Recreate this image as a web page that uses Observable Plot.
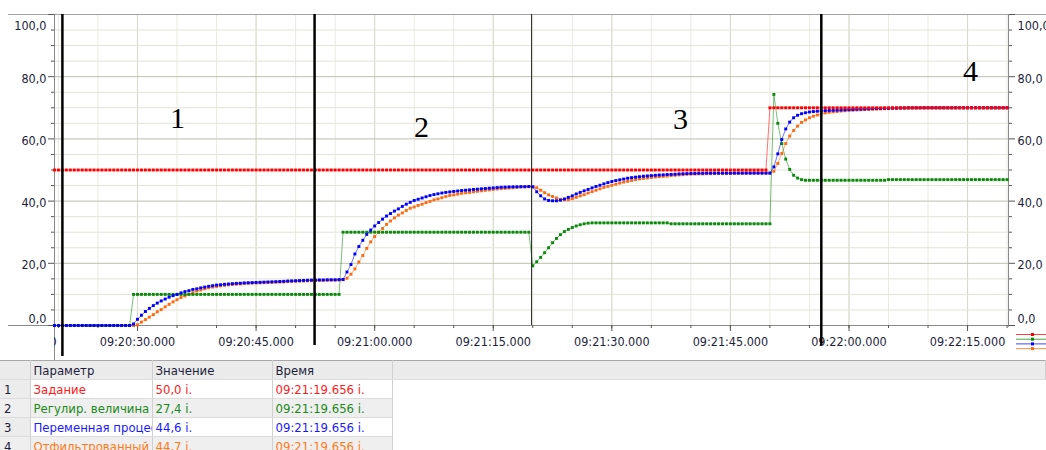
<!DOCTYPE html>
<html>
<head>
<meta charset="utf-8">
<script src="https://cdn.jsdelivr.net/npm/d3@7"></script>
<script src="https://cdn.jsdelivr.net/npm/@observablehq/plot@0.6"></script>
<style>
  body { margin: 0; background: #fff; }
  #chart svg { display: block; }
  #readout {
    border-collapse: collapse; table-layout: fixed; width: 1046px;
    font: 13px "DejaVu Sans Condensed", "DejaVu Sans", sans-serif;
    border-top: 1px solid #a8a8a8;
  }
  #readout th, #readout td {
    height: 18px; padding: 0 0 0 3px; white-space: nowrap; overflow: hidden;
    text-align: left; font-weight: normal; border-right: 1px solid #d0d0d0;
    border-bottom: 1px solid #dcdcdc;
  }
  #readout th { background: #ebebeb; color: #1e1e3c; }
  #readout td.idx { background: #ececec; color: #1e1e3c; padding-left: 4px; }
  #readout tr.alt td { background: #efefef; }
  #readout td.fill, #readout tr.alt td.fill { background: #fff; border: none; }
</style>
</head>
<body>
<div id="chart"></div>
<table id="readout">
  <colgroup><col style="width:30px"><col style="width:122px"><col style="width:120px"><col style="width:120px"><col></colgroup>
  <thead><tr><th></th><th>Параметр</th><th>Значение</th><th>Время</th><th></th></tr></thead>
  <tbody></tbody>
</table>
<script>
// Trend recorder: samples every 0.5 s starting at 09:20:19.500
const sampleStart = "09:20:19.500";
const samplePeriodMs = 500;

// Задание (setpoint)
const setpoint = [
  50,50,50,50,50,50,50,50,50,50,50,50,50,50,50,50,50,50,50,50,
  50,50,50,50,50,50,50,50,50,50,50,50,50,50,50,50,50,50,50,50,
  50,50,50,50,50,50,50,50,50,50,50,50,50,50,50,50,50,50,50,50,
  50,50,50,50,50,50,50,50,50,50,50,50,50,50,50,50,50,50,50,50,
  50,50,50,50,50,50,50,50,50,50,50,50,50,50,50,50,50,50,50,50,
  50,50,50,50,50,50,50,50,50,50,50,50,50,50,50,50,50,50,50,50,
  50,50,50,50,50,50,50,50,50,50,50,50,50,50,50,50,50,50,50,50,
  50,50,50,50,50,50,50,50,50,50,50,50,50,50,50,50,50,50,50,50,
  50,50,50,50,50,50,50,50,50,50,50,50,50,50,50,50,50,50,50,50,
  50,
  70,70,70,70,70,70,70,70,70,70,70,70,70,70,70,70,70,70,70,70,
  70,70,70,70,70,70,70,70,70,70,70,70,70,70,70,70,70,70,70,70,
  70,70,70,70,70,70,70,70,70,70,70,70,70,70,70,70,70,70,70,70,
  70
];

// Регулир. величина (controller output)
const controlOutput = [
  0,0,0,0,0,0,0,0,0,0,0,0,0,0,0,0,0,0,0,0,
  10,10,10,10,10,10,10,10,10,10,10,10,10,10,10,10,10,10,10,10,
  10,10,10,10,10,10,10,10,10,10,10,10,10,10,10,10,10,10,10,10,
  10,10,10,10,10,10,10,10,10,10,10,10,10,
  30,30,30,30,30,30,30,30,30,30,30,30,30,30,30,30,30,30,30,30,
  30,30,30,30,30,30,30,30,30,30,30,30,30,30,30,30,30,30,30,30,
  30,30,30,30,30,30,30,30,
  19.2,20.5,21.9,23.4,25.0,26.6,28.0,29.2,30.2,30.9,31.5,32.0,32.4,32.7,32.9,
  33,33,33,33,33,33,33,33,33,33,33,33,33,33,33,33,33,33,33,33,
  32.7,32.7,32.7,32.7,32.7,32.7,32.7,32.7,32.7,32.7,32.7,32.7,32.7,
  32.7,32.7,32.7,32.7,32.7,32.7,32.7,32.7,32.7,32.7,32.7,32.7,32.7,
  74.3,65.0,58.5,53.5,50.2,48.3,47.4,46.9,
  46.7,46.7,46.7,46.7,46.7,46.7,46.7,46.7,46.7,46.7,46.7,
  46.7,46.7,46.7,46.7,46.7,46.7,46.7,46.7,46.7,46.7,
  46.9,46.9,46.9,46.9,46.9,46.9,46.9,46.9,46.9,46.9,46.9,46.9,46.9,46.9,46.9,46.9,
  46.9,46.9,46.9,46.9,46.9,46.9,46.9,46.9,46.9,46.9,46.9,46.9,46.9,46.9,46.9
];

// Переменная процесса (process variable)
const processValue = [
  0,0,0,0,0,0,0,0,0,0,0,0,0,0,0,0,0,0,0,0,
  0.5,2.0,3.3,4.5,5.5,6.4,7.2,7.9,8.5,9.1,
  9.6,10.0,10.5,10.9,11.2,11.6,11.8,12.1,12.35,12.6,
  12.8,13.0,13.1,13.25,13.35,13.45,13.55,13.6,13.7,13.75,
  13.8,13.85,13.9,13.95,14.0,14.05,14.1,14.15,14.2,14.3,
  14.35,14.4,14.45,14.5,14.55,14.6,14.6,14.65,14.65,14.7,
  14.7,14.7,14.75,
  14.8,17.2,19.6,23.0,25.4,27.4,29.3,30.7,32.0,33.1,
  34.2,35.2,36.0,36.8,37.5,38.3,39.0,39.6,40.2,40.6,
  41.0,41.4,41.8,42.1,42.35,42.6,42.8,42.95,43.1,43.25,
  43.4,43.5,43.6,43.75,43.85,43.95,44.05,44.15,44.25,44.35,
  44.45,44.5,44.55,44.6,44.6,44.65,44.65,44.7,
  44.6,43.0,41.7,40.7,40.2,40.1,40.1,40.3,40.7,41.2,
  41.7,42.3,42.8,43.3,43.75,44.25,44.7,45.1,45.55,45.95,
  46.3,46.6,46.85,47.1,47.35,47.55,47.7,47.85,48.0,48.1,
  48.2,48.3,48.4,48.45,48.55,48.6,48.65,48.75,48.8,48.85,
  48.9,48.9,48.95,48.95,
  49,49,49,49,49,49,49,49,49,49,49,49,49,49,49,49,49,
  51.0,55.2,59.8,63.2,65.4,66.8,67.6,68.1,68.4,68.65,
  68.8,68.9,69.0,69.1,69.15,69.2,69.25,69.3,69.35,69.4,
  69.45,69.5,69.55,69.6,69.65,69.7,69.75,69.8,69.85,69.85,
  69.9,69.9,69.95,69.95,
  70,70,70,70,70,70,70,70,70,70,70,70,70,70,70,70,70,70,70,70,70,70,70,70,70,70
];

// Отфильтрованный (filtered process variable)
const filteredValue = [
  0,0,0,0,0,0,0,0,0,0,0,0,0,0,0,0,0,0,0,0,0,
  0.2,1.1,1.9,2.7,3.5,4.4,5.1,6.0,6.8,7.6,
  8.3,9.0,9.5,10.1,10.6,11.1,11.4,11.8,12.1,12.35,
  12.55,12.75,12.9,13.05,13.15,13.25,13.35,13.45,13.55,13.6,
  13.65,13.7,13.75,13.8,13.85,13.9,13.95,14.0,14.1,14.15,
  14.2,14.25,14.3,14.35,14.4,14.45,14.5,14.5,14.55,14.6,
  14.6,14.65,
  14.7,15.2,16.5,18.2,20.4,22.5,24.8,26.9,28.6,30.0,
  31.2,32.5,33.6,34.6,35.5,36.2,37.0,37.7,38.1,38.6,
  39.0,39.5,39.9,40.4,40.7,41.1,41.5,41.8,42.0,42.25,
  42.5,42.65,42.8,43.0,43.15,43.3,43.45,43.6,43.75,43.9,
  44.0,44.1,44.2,44.3,44.4,44.5,44.55,44.6,
  44.6,44.3,43.5,42.7,42.0,41.5,41.0,40.6,40.4,40.45,
  40.8,41.2,41.7,42.05,42.6,43.05,43.5,43.95,44.4,44.75,
  45.1,45.45,45.8,46.1,46.35,46.65,46.9,47.15,47.3,47.45,
  47.6,47.75,47.85,47.95,48.05,48.2,48.3,48.4,48.5,48.6,
  48.65,48.7,48.75,48.75,
  48.8,48.8,48.85,48.85,48.9,48.9,48.9,48.95,48.95,48.95,49,49,49,49,49,49,49,
  49.6,52.1,55.3,58.5,60.9,62.7,64.1,65.3,66.1,66.8,
  67.3,67.7,68.0,68.35,68.55,68.7,68.8,68.95,69.05,69.15,
  69.2,69.3,69.35,69.45,69.5,69.55,69.6,69.65,69.7,69.75,
  69.8,69.85,69.85,69.9,69.9,69.95,69.95,
  70,70,70,70,70,70,70,70,70,70,70,70,70,70,70,70,70,70,70,70,70,70,70
];

const seriesNames = ["Задание", "Регулир. величина", "Переменная процесса", "Отфильтрованный"];
const seriesColors = ["#ff0000", "#0a8a0a", "#0000ff", "#ff6a10"];

// Cursor readout shown in the table under the chart
const readoutValues = ["50,0 i.", "27,4 i.", "44,6 i.", "44,7 i."];
const readoutTimes = ["09:21:19.656 i.", "09:21:19.656 i.", "09:21:19.656 i.", "09:21:19.656 i."];
const readoutColors = ["#ff1a1a", "#1a8a1a", "#1a1aff", "#ff7a1a"];

// Axis tick labels
const yTickLabels = ["0,0", "20,0", "40,0", "60,0", "80,0", "100,0"];
const xTickLabels = ["09:20:15.000", "09:20:30.000", "09:20:45.000", "09:21:00.000",
  "09:21:15.000", "09:21:30.000", "09:21:45.000", "09:22:00.000", "09:22:15.000"];

// Phase boundaries and phase numbers
const phaseBoundaries = ["09:20:20.500", "09:20:52.400", "09:21:19.850", "09:21:56.500"];
const phaseNames = ["1", "2", "3", "4"];
const phaseNameTimes = ["09:20:35.060", "09:21:05.930", "09:21:38.690", "09:22:15.370"];
const phaseNameLevels = [63.4, 60.5, 63.1, 78.5];

// ---- helpers ----
const parseClock = s => {
  const [h, m, sec] = s.split(":");
  return new Date(Date.UTC(2000, 0, 1, +h, +m, 0) + Math.round(parseFloat(sec) * 1000));
};
const t0 = parseClock(sampleStart);
const series = [setpoint, controlOutput, processValue, filteredValue].map((vals, s) =>
  vals.map((v, i) => ({time: new Date(+t0 + i * samplePeriodMs), value: v, name: seriesNames[s]})));

const xStart = t0;
const xEnd = parseClock("09:22:20.180");
const frameLeft = parseClock("09:20:13.680");
const frameRight = parseClock("09:22:25.000");

const gridTimes = d3.utcSecond.every(5).range(parseClock("09:20:20.000"), xEnd);
const labelTimes = xTickLabels.map(parseClock);
const majorTimes = labelTimes.filter(d => d >= xStart && d <= xEnd);
const yValues = yTickLabels.map(s => +s.replace(",", "."));
const yMinor = d3.range(5, 100, 5).filter(v => v % 20 !== 0);

const font = '"DejaVu Sans Condensed", "DejaVu Sans", sans-serif';
const ink = "#1e1e3c";
const axisGray = "#8a8a8a";

function yLabels(anchor) {
  const base = {y: d => d, text: d => yTickLabels[yValues.indexOf(d)], frameAnchor: anchor,
    textAnchor: anchor === "left" ? "end" : "start", dx: anchor === "left" ? -8 : 9,
    fill: ink, fontSize: 12.5};
  return [
    Plot.text([100], {...base, dy: 11}),
    Plot.text([20, 40, 60, 80], {...base, dy: 2}),
    Plot.text([0], {...base, dy: -7})
  ];
}

const drawOrder = [3, 1, 2, 0];
const seriesMarks = drawOrder.flatMap(s => [
  Plot.line(series[s], {x: "time", y: "value", stroke: seriesColors[s], strokeWidth: 1, strokeOpacity: 0.55}),
  Plot.dot(series[s], {x: "time", y: "value", symbol: "square", r: 1.65, fill: seriesColors[s]})
]);

const chart = Plot.plot({
  width: 1046,
  height: 360,
  marginTop: 14,
  marginBottom: 35,
  marginLeft: 54,
  marginRight: 38,
  x: {type: "utc", domain: [xStart, xEnd], label: null},
  y: {domain: [0, 100], label: null},
  style: {fontFamily: font, fontSize: "12.5px", color: ink, background: "#fff", overflow: "visible"},
  marks: [
    // grid
    Plot.ruleX(gridTimes, {stroke: "#ebebe1"}),
    Plot.ruleX(majorTimes, {stroke: "#d8d8ca"}),
    Plot.ruleY(yMinor, {stroke: "#e3e3d7"}),
    Plot.ruleY([20, 40, 60, 80], {stroke: "#bebeb1"}),
    // frame lines
    Plot.ruleY([100], {x1: frameLeft, x2: frameRight, stroke: "#a4a4a4"}),
    Plot.ruleY([0], {x1: frameLeft, x2: xEnd, stroke: axisGray}),
    Plot.ruleX([xStart], {y1: -11.2, y2: 100, stroke: axisGray}),
    Plot.ruleX([xEnd], {y1: -0.6, y2: 100, stroke: axisGray}),
    // ticks
    Plot.axisY(yMinor, {anchor: "left", tickSize: 3, tickFormat: () => "", stroke: "#555"}),
    Plot.axisY(yValues, {anchor: "left", tickSize: 6, tickFormat: () => "", stroke: "#555"}),
    Plot.axisY(yMinor, {anchor: "right", tickSize: 3, tickFormat: () => "", stroke: "#555"}),
    Plot.axisY(yValues, {anchor: "right", tickSize: 6, tickFormat: () => "", stroke: "#555"}),
    Plot.axisX(gridTimes, {anchor: "bottom", tickSize: 3, tickFormat: () => "", stroke: "#555"}),
    Plot.axisX(majorTimes, {anchor: "bottom", tickSize: 6, tickFormat: () => "", stroke: "#555"}),
    ...yLabels("left"),
    ...yLabels("right"),
    Plot.text(xTickLabels, {x: parseClock, text: d => d, frameAnchor: "bottom", dy: 20,
      fill: ink, fontSize: 12.5}),
    // series
    ...seriesMarks,
    // phase boundaries
    Plot.ruleX(phaseBoundaries.filter((d, i) => i !== 2), {
      x: parseClock, y1: (d, i) => [-10, -6.4, -6.4][i], y2: 100, stroke: "#000", strokeWidth: 2.5}),
    Plot.ruleX([phaseBoundaries[2]], {x: parseClock, y1: 0, y2: 100, stroke: "#222", strokeWidth: 1}),
    Plot.text(phaseNames, {x: (d, i) => parseClock(phaseNameTimes[i]), y: (d, i) => phaseNameLevels[i],
      text: d => d, lineAnchor: "bottom", fontFamily: '"Liberation Serif", serif', fontSize: 30, fill: "#000"})
  ]
});

document.getElementById("chart").append(chart);

// clip the time labels to the span between the two value axes
const svgNS = "http://www.w3.org/2000/svg";
const svg = d3.select(chart);
const clipId = "time-label-clip";
svg.append("defs").append("clipPath").attr("id", clipId).attr("clipPathUnits", "userSpaceOnUse")
  .append("rect").attr("x", 54).attr("y", 320).attr("width", 954).attr("height", 40);
const firstLabel = svg.selectAll("text").filter(function() { return this.textContent === xTickLabels[0]; }).node();
if (firstLabel) {
  const labelGroup = firstLabel.parentNode;
  const wrapper = document.createElementNS(svgNS, "g");
  wrapper.setAttribute("clip-path", `url(#${clipId})`);
  labelGroup.parentNode.insertBefore(wrapper, labelGroup);
  wrapper.appendChild(labelGroup);
}

// small series key in the lower right corner
const key = svg.append("g");
seriesColors.forEach((c, i) => {
  const y = 334.5 + i * 4.7;
  key.append("line").attr("x1", 1016).attr("x2", 1046).attr("y1", y).attr("y2", y)
    .attr("stroke", c).attr("stroke-opacity", 0.75);
  key.append("rect").attr("x", 1031).attr("y", y - 1.5).attr("width", 3).attr("height", 3).attr("fill", c);
});

// readout table
const tbody = document.querySelector("#readout tbody");
seriesNames.forEach((name, i) => {
  const tr = document.createElement("tr");
  if (i % 2 === 1) tr.className = "alt";
  const cells = [[String(i + 1), "idx", ink], [name, "", readoutColors[i]],
    [readoutValues[i], "", readoutColors[i]], [readoutTimes[i], "", readoutColors[i]], ["", "fill", ink]];
  cells.forEach(([txt, cls, col]) => {
    const td = document.createElement("td");
    td.textContent = txt;
    if (cls) td.className = cls;
    td.style.color = col;
    tr.appendChild(td);
  });
  tbody.appendChild(tr);
});
</script>
</body>
</html>
